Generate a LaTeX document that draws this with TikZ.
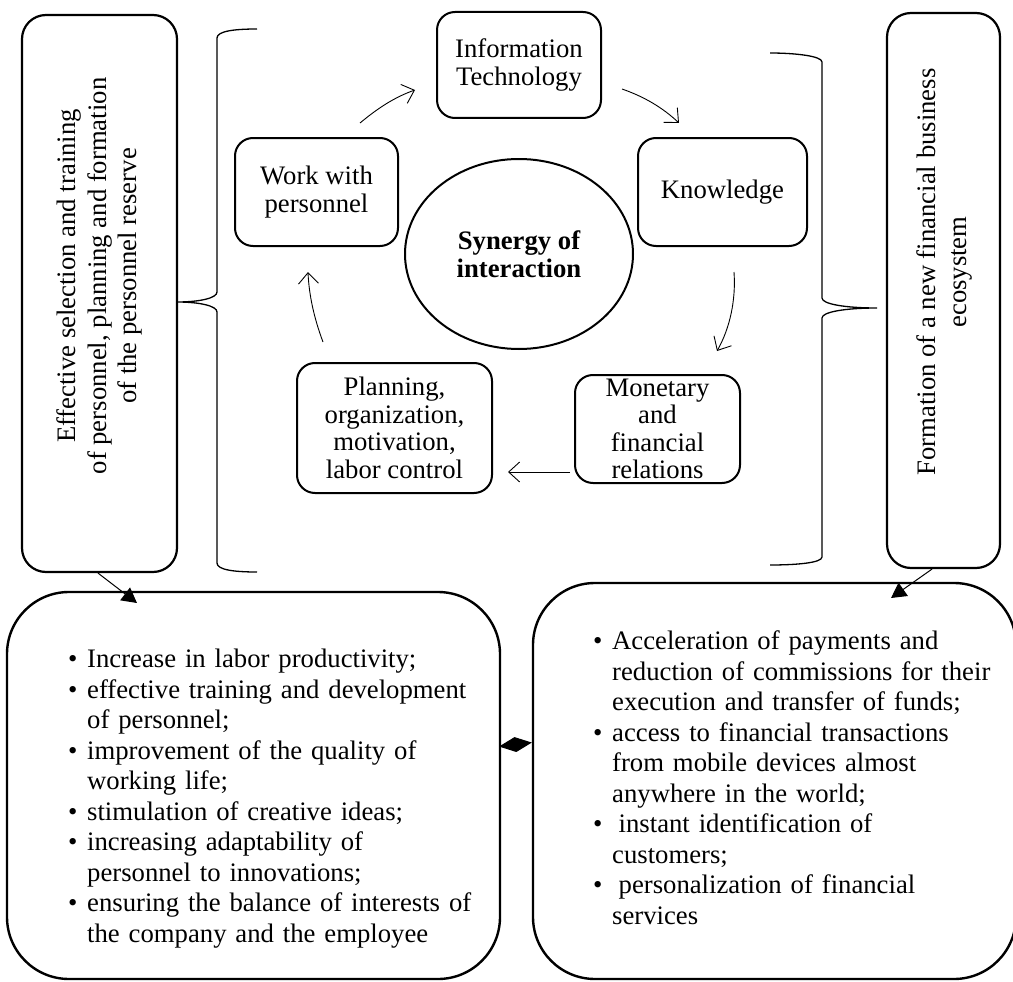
\documentclass[tikz,border=0pt]{standalone}
\usepackage{fontspec}
\setmainfont{Liberation Serif}
\usetikzlibrary{arrows.meta,shapes.geometric,calc}

\newcommand\ctrfont{\fontsize{26.7pt}{27.5pt}\selectfont}
\newcommand\vertfont{\fontsize{26.7pt}{30.7pt}\selectfont}
\newcommand\itemsfont{\fontsize{26.7pt}{30.5pt}\selectfont}
\newcommand\pitem{\par\noindent\hangindent=19pt\hangafter=1\makebox[19pt][l]{\textbullet}}

\begin{document}
\begin{tikzpicture}[x=1pt,y=-1pt,
  cbox/.style={draw, line width=2pt, rounded corners=18pt, align=center, inner sep=0pt, font=\ctrfont},
  tallbox/.style={draw, line width=2.2pt, rounded corners=24pt, inner sep=0pt},
  bigbox/.style={draw, line width=2.4pt, rounded corners=62pt, inner sep=0pt},
  vtext/.style={rotate=90, align=center, inner sep=0pt, font=\vertfont},
  items/.style={anchor=north west, inner sep=0pt, text width=425pt, align=left, font=\itemsfont},
  cyc/.style={line width=0.9pt, -{Straight Barb[length=11pt,width=20pt,line width=0.9pt]}},
  brace/.style={line width=1.3pt},
  pointer/.style={line width=1pt, -{Triangle[length=15pt,width=16pt]}}
]
\useasboundingbox (0,0) rectangle (1013,982);

% side panels
\node[tallbox, minimum width=155pt, minimum height=557pt] (ltb) at (99.5,293.5) {};
\node[vtext] (ltt) at (99.5,276) {Effective selection and training\\of personnel, planning and formation\\of the personnel reserve};
\node[tallbox, minimum width=113pt, minimum height=555pt] (rtb) at (943.5,290.5) {};
\node[vtext] (rtt) at (944.5,272) {Formation of a new financial business\\ecosystem};

% braces
\draw[brace] (257,29) .. controls (235,29) and (217,31) .. (217,38) -- (217,292)
  .. controls (217,298) and (200,302) .. (177,302)
  .. controls (200,302) and (217,306) .. (217,312) -- (217,563)
  .. controls (217,570) and (235,572) .. (257,572);
\draw[brace] (770,53) .. controls (795,53) and (822,56) .. (822,62) -- (822,298)
  .. controls (822,304) and (845,308) .. (877,308)
  .. controls (845,308) and (822,312) .. (822,318) -- (822,557)
  .. controls (822,563) and (795,565) .. (770,565);

% cycle
\node[cbox, minimum width=164pt, minimum height=106pt] (it) at (519,65) {Information\\Technology};
\node[cbox, minimum width=163pt, minimum height=108pt] (wp) at (316.5,192) {Work with\\personnel};
\node[cbox, minimum width=169pt, minimum height=108pt] (kn) at (722.5,192) {Knowledge};
\node[cbox, minimum width=195pt, minimum height=130pt] (pl) at (394.5,428) {Planning,\\organization,\\motivation,\\labor control};
\node[cbox, minimum width=165pt, minimum height=108pt] (mo) at (657.5,429) {Monetary\\and\\financial\\relations};
\node[draw, ellipse, line width=2pt, minimum width=228pt, minimum height=190pt, inner sep=0pt, align=center, font=\ctrfont\bfseries] (syn) at (519,254) {Synergy of\\interaction};

\coordinate (c1a) at (360,123);  \coordinate (c1b) at (415,90);
\coordinate (c2a) at (622,89);   \coordinate (c2b) at (679,123);
\coordinate (c3a) at (734,272);  \coordinate (c3b) at (717,351);
\coordinate (c4a) at (570,472);  \coordinate (c4b) at (508,472);
\coordinate (c5a) at (323,342);  \coordinate (c5b) at (308,272);
\draw[cyc] (c1a) .. controls (378,108) and (395,97) .. (c1b);
\draw[cyc] (c2a) .. controls (645,97) and (663,108) .. (c2b);
\draw[cyc] (c3a) .. controls (736,300) and (730,328) .. (c3b);
\draw[cyc] (c4a) -- (c4b);
\draw[cyc] (c5a) .. controls (314,318) and (309,295) .. (c5b);

% result panels
\node[bigbox, minimum width=493pt, minimum height=387pt] (lbb) at (253.5,785.5) {};
\node[bigbox, minimum width=483pt, minimum height=396pt] (rbb) at (774.5,781) {};

\node[items] (ltxt) at (68,637) {%
\pitem\rule{0pt}{22pt}Increase in labor productivity;
\pitem effective training and development\newline of personnel;
\pitem improvement of the quality of\newline working life;
\pitem stimulation of creative ideas;
\pitem increasing adaptability of\newline personnel to innovations;
\pitem ensuring the balance of interests of\newline the company and the employee\par};

\node[items] (rtxt) at (593,619) {%
\pitem\rule{0pt}{22pt}Acceleration of payments and\newline reduction of commissions for their\newline execution and transfer of funds;
\pitem access to financial transactions\newline from mobile devices almost\newline anywhere in the world;
\pitem\hspace{6.5pt}instant identification of\newline customers;
\pitem\hspace{6.5pt}personalization of financial\newline services\par};

\coordinate (la) at (137,603);
\coordinate (ra) at (891,598);
\draw[pointer] ($(ltb.south)+(-1.5,0)$) -- (la);
\draw[pointer] ($(rtb.south)+(-11.5,0)$) -- (ra);

\draw[line width=1pt, -{Diamond[length=33pt,width=15pt]}] (lbb.9.33) -- (rbb.171.52);
\end{tikzpicture}
\end{document}
